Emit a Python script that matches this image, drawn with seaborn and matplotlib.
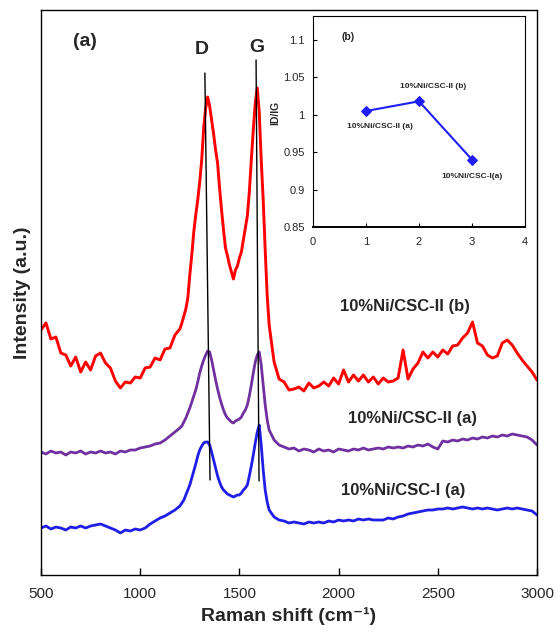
import matplotlib
matplotlib.use("Agg")
import matplotlib.pyplot as plt
import seaborn as sns
import pandas as pd

# ---------------- data ----------------
raman_shift = [500, 525, 550, 575, 600, 625, 650, 675, 700, 725, 750, 775, 800, 825, 850,
               875, 900, 925, 950, 975, 1000, 1025, 1050, 1075, 1100, 1125, 1150, 1175, 1200,
               1210, 1220, 1230, 1240, 1250, 1260, 1270, 1280, 1290, 1300, 1310, 1320, 1330,
               1340, 1350, 1360, 1370, 1380, 1390, 1400, 1410, 1420, 1430, 1440, 1450, 1460,
               1470, 1480, 1490, 1500, 1510, 1520, 1530, 1540, 1550, 1560, 1570, 1580, 1590,
               1600, 1610, 1620, 1630, 1640, 1650,
               1675, 1700, 1725, 1750, 1775, 1800, 1825, 1850, 1875, 1900, 1925, 1950, 1975,
               2000, 2025, 2050, 2075, 2100, 2125, 2150, 2175, 2200, 2225, 2250, 2275, 2300,
               2325, 2350, 2375, 2400, 2425, 2450, 2475, 2500, 2525, 2550, 2575, 2600, 2625,
               2650, 2675, 2700, 2725, 2750, 2775, 2800, 2825, 2850, 2875, 2900, 2925, 2950,
               2975, 3000]

csc_II_b = [245, 252, 236, 238, 222, 220, 209, 218, 203, 213, 205, 219, 222, 212, 207,
            194, 187, 193, 192, 198, 197, 207, 208, 217, 215, 226, 227, 240, 246,
            252, 259, 266, 277, 300, 320, 343, 360, 375, 393, 415, 447, 467, 478, 469,
            455, 441, 425, 412, 387, 365, 345, 327, 319, 310, 303, 296, 305, 309, 317,
            323, 335, 347, 359, 383, 415, 445, 472, 487, 463, 415, 375, 325, 280, 250,
            213, 196, 193, 185, 186, 188, 184, 192, 187, 189, 193, 189, 197, 191, 205,
            193, 200, 194, 200, 193, 198, 191, 197, 193, 194, 197, 225, 196, 206, 212,
            223, 217, 223, 218, 225, 221, 229, 230, 237, 242, 253, 232, 229, 220, 217,
            219, 232, 235, 230, 222, 215, 209, 203, 195]

csc_II_a = [123, 121, 124, 122, 123, 120, 123, 122, 124, 121, 123, 122, 124, 122, 123,
            121, 124, 123, 125, 125, 127, 128, 129, 131, 132, 135, 139, 143, 147,
            149, 153, 157, 162, 167, 173, 179, 185, 193, 202, 209, 215, 220, 224, 223,
            215, 205, 195, 186, 178, 171, 165, 160, 157, 155, 153, 152, 154, 155, 156,
            158, 162, 165, 170, 179, 190, 202, 213, 220, 223, 210, 190, 170, 155, 145,
            135, 130, 128, 126, 127, 124, 126, 125, 123, 126, 124, 125, 123, 126, 125,
            124, 126, 125, 127, 125, 126, 127, 126, 128, 127, 128, 127, 129, 128, 130,
            129, 131, 128, 126, 134, 133, 135, 134, 136, 135, 137, 136, 138, 137, 139,
            138, 140, 139, 141, 140, 139, 138, 135, 130]

csc_I_a = [47, 49, 46, 48, 47, 45, 48, 47, 49, 47, 49, 50, 51, 49, 47,
           45, 42, 45, 44, 46, 45, 47, 51, 54, 57, 59, 62, 65, 69,
           72, 75, 80, 85, 90, 97, 104, 111, 119, 125, 129, 132, 133, 133, 130,
           123, 115, 107, 99, 93, 88, 85, 83, 81, 80, 79, 78, 79, 80, 80,
           82, 85, 87, 90, 99, 109, 120, 132, 143, 150, 130, 105, 85, 73, 65,
           58, 55, 54, 52, 53, 52, 51, 53, 52, 53, 52, 54, 53, 55, 54,
           55, 54, 56, 55, 56, 55, 55, 55, 57, 56, 58, 59, 61, 62, 63,
           64, 65, 65, 66, 66, 67, 66, 67, 68, 67, 66, 67, 66, 67, 66,
           65, 66, 67, 66, 67, 66, 65, 64, 60]

series_names = ["10%Ni/CSC-II (b)", "10%Ni/CSC-II (a)", "10%Ni/CSC-I (a)"]
series_colors = ["#FF0000", "#7030A0", "#1E1EE6"]
series_widths = [2.1, 2.0, 2.0]

# peak guide lines (x in cm-1, intensity)
d_line_x = [1326, 1352]
d_line_y = [502, 95]
g_line_x = [1584, 1599]
g_line_y = [515, 94]

# inset data
inset_x = [1, 2, 3]
inset_ratio = [1.005, 1.018, 0.94]
inset_labels = ["10%Ni/CSC-II (a)", "10%Ni/CSC-II (b)", "10%Ni/CSC-I(a)"]
inset_yticks = [0.85, 0.9, 0.95, 1, 1.05, 1.1]
inset_yticklabels = ["0.85", "0.9", "0.95", "1", "1.05", "1.1"]
inset_xticks = [0, 1, 2, 3, 4]
main_xticks = [500, 1000, 1500, 2000, 2500, 3000]

# ---------------- style ----------------
sns.set_theme(style="white")
plt.rcParams["font.family"] = ["Liberation Sans", "DejaVu Sans"]

fig = plt.figure(figsize=(5.6, 6.35), dpi=100)
ax = fig.add_axes([41 / 560, 60 / 635, 496 / 560, 565 / 635])

for name, vals, col, lw in zip(series_names, [csc_II_b, csc_II_a, csc_I_a],
                               series_colors, series_widths):
    d = pd.DataFrame({"shift": raman_shift, "intensity": vals})
    sns.lineplot(data=d, x="shift", y="intensity", color=col, estimator=None, sort=False,
                 linewidth=lw, ax=ax)

ax.plot(d_line_x, d_line_y, color="black", lw=1.0)
ax.plot(g_line_x, g_line_y, color="black", lw=1.0)

ax.set_xlim(500, 3000)
ax.set_ylim(0, 565)
ax.set_xticks(main_xticks)
ax.set_xticklabels([str(v) for v in main_xticks], fontsize=11)
ax.set_yticks([])
ax.tick_params(axis="x", direction="in", length=5, width=1, color="black", pad=9, bottom=True)
for s in ax.spines.values():
    s.set_color("black")
    s.set_linewidth(1.0)
ax.set_xlabel("Raman shift (cm⁻¹)", fontsize=14, fontweight="bold", labelpad=4)
ax.set_ylabel("Intensity (a.u.)", fontsize=14, fontweight="bold", labelpad=7)

def atxt(x, y, s, size, **kw):
    ax.text((x - 41) / 496, (575 - y) / 565, s, transform=ax.transAxes, ha="center",
            va="center", fontsize=size, fontweight="bold", **kw)

atxt(85, 42, "(a)", 14)
atxt(202, 49, "D", 14)
atxt(257, 47, "G", 14)
atxt(405, 307, series_names[0], 12)
atxt(412, 418, series_names[1], 12)
atxt(403, 490, series_names[2], 12)

# ---------------- inset ----------------
axi = fig.add_axes([313 / 560, (635 - 227) / 635, 212 / 560, 211 / 635])
axi.set_facecolor("white")
sns.lineplot(x=inset_x, y=inset_ratio, marker="D", markersize=5.5, color="#1E1EF5",
             markeredgecolor="#1E1EF5", linewidth=1.5, ax=axi)
axi.set_xlim(0, 4)
axi.set_ylim(0.85, 1.132)
axi.set_xticks(inset_xticks)
axi.set_xticklabels([str(v) for v in inset_xticks], fontsize=8)
axi.set_yticks(inset_yticks)
axi.set_yticklabels(inset_yticklabels, fontsize=8)
axi.tick_params(axis="both", direction="in", length=3, width=0.8, color="black",
                left=True, bottom=True)
axi.tick_params(axis="x", pad=7)
axi.tick_params(axis="y", pad=6)
for k, s in axi.spines.items():
    s.set_color("black")
    s.set_linewidth(1.4 if k == "bottom" else 0.8)
axi.set_ylabel("ID/IG", fontsize=7.5, fontweight="bold")
axi.yaxis.set_label_coords((280 - 313) / 212, (227 - 113) / 211)
axi.set_xlabel("")

def itxt(x, y, s, size):
    axi.text((x - 313) / 212, (227 - y) / 211, s, transform=axi.transAxes, ha="center",
             va="center", fontsize=size, fontweight="bold")

itxt(348, 37, "(b)", 7.5)
itxt(433, 86, inset_labels[1], 6)
itxt(380, 127, inset_labels[0], 6)
itxt(472, 177, inset_labels[2], 6)

fig.savefig("out.png", dpi=100)
